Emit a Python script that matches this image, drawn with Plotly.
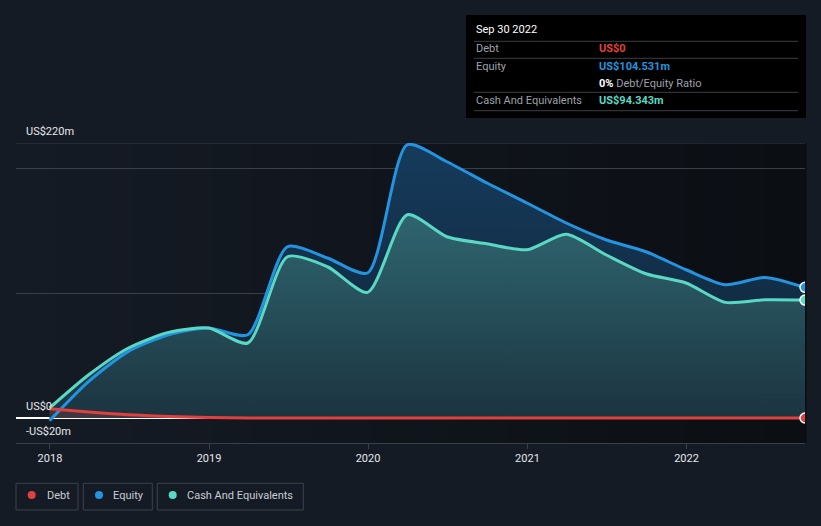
import plotly.graph_objects as go

# ---------------- data ----------------
dates = ["2017-12-31", "2018-03-31", "2018-06-30", "2018-09-30", "2018-12-31",
         "2019-03-31", "2019-06-30", "2019-09-30", "2019-12-31", "2020-03-31",
         "2020-06-30", "2020-09-30", "2020-12-31", "2021-03-31", "2021-06-30",
         "2021-09-30", "2021-12-31", "2022-03-31", "2022-06-30", "2022-09-30"]
debt = [7.4, 4.8, 2.6, 1.3, 0.4, 0, 0, 0, 0, 0, 0, 0, 0, 0, 0, 0, 0, 0, 0, 0]
equity = [-2.2, 29.3, 53.3, 66.6, 72, 66.6, 137, 128, 116, 218.6, 205, 188, 172,
          156, 142.6, 133, 118.6, 106.6, 112.5, 104.531]
cash = [8, 34.6, 56, 68.5, 72, 60, 129, 121, 100.5, 162.6, 145, 139.4, 134.6,
        147, 130.6, 115.4, 108, 92.5, 94.6, 94.343]

series_names = ["Debt", "Equity", "Cash And Equivalents"]
y_tick_labels = {220: "US$220m", 0: "US$0", -20: "-US$20m"}
tooltip_title = "Sep 30 2022"
tooltip_rows = [("Debt", "US$0"), ("Equity", "US$104.531m"),
                ("Cash And Equivalents", "US$94.343m")]

# ---------------- styles ----------------
W, H = 821, 526
L, R, T, B = 16, 16, 143, 83
BG = "#151b25"
RED, BLUE, TEAL = "#e0413f", "#2394df", "#5ad8c4"
GRID = "#3a3f48"
FONT = "Roboto, 'Noto Sans', sans-serif"
FS = 11
SM = 0.7

pw, ph = W - L - R, H - T - B


def px(x):
    return (x - L) / pw


def py(y):
    return (H - B - y) / ph


fig = go.Figure()

# fills
fig.add_trace(go.Scatter(
    x=dates, y=equity, mode="lines", line=dict(width=0, shape="spline", smoothing=SM),
    fill="tozeroy",
    fillgradient=dict(type="vertical", start=0, stop=220,
                      colorscale=[[0, "#0f2335"], [1, "#163b5c"]]),
    hoverinfo="skip", showlegend=False))
fig.add_trace(go.Scatter(
    x=dates, y=cash, mode="lines", line=dict(width=0, shape="spline", smoothing=SM),
    fill="tozeroy",
    fillgradient=dict(type="vertical", start=0, stop=165,
                      colorscale=[[0, "#1b3440"], [1, "#2f6670"]]),
    hoverinfo="skip", showlegend=False))
fig.add_trace(go.Scatter(
    x=dates, y=debt, mode="lines", line=dict(width=0, shape="spline", smoothing=SM),
    fill="tozeroy", fillcolor="rgba(224,65,63,0.18)",
    hoverinfo="skip", showlegend=False))

# lines
for vals, col, name in [(equity, BLUE, series_names[1]), (cash, TEAL, series_names[2]),
                        (debt, RED, series_names[0])]:
    fig.add_trace(go.Scatter(
        x=dates, y=vals, mode="lines", name=name,
        line=dict(color=col, width=3, shape="spline", smoothing=SM),
        showlegend=False))
    fig.add_trace(go.Scatter(
        x=[dates[-1]], y=[vals[-1]], mode="markers",
        marker=dict(color=col, size=10, line=dict(color="#ffffff", width=1.5)),
        showlegend=False, hoverinfo="skip"))

shapes = []
# horizontal gradient background of plot area
n = 40
c0 = (0x15, 0x1b, 0x25)
c1 = (0x0b, 0x0e, 0x13)
for i in range(n):
    t = i / (n - 1)
    c = tuple(round(a + (b - a) * t) for a, b in zip(c0, c1))
    shapes.append(dict(type="rect", xref="x domain", yref="y domain",
                       x0=i / n, x1=(i + 1) / n + 0.002, y0=0, y1=1,
                       fillcolor="rgb(%d,%d,%d)" % c, line=dict(width=0),
                       layer="below"))
# top border line at 220
shapes.append(dict(type="line", xref="x domain", yref="y", x0=0, x1=1, y0=220, y1=220,
                   line=dict(color=GRID, width=1), layer="below"))

annotations = []
for v, txt in y_tick_labels.items():
    annotations.append(dict(xref="paper", yref="y", x=px(24), y=v, xanchor="left",
                            yanchor="bottom", yshift=3, text=txt, showarrow=False,
                            font=dict(family=FONT, size=FS, color="#e6e8eb")))

# tooltip box
shapes.append(dict(type="rect", xref="paper", yref="paper", x0=px(466), x1=px(806),
                   y0=py(118), y1=py(15), fillcolor="#000000", line=dict(width=0)))
for yy in [41.3, 58.3, 92.3, 110.7]:
    shapes.append(dict(type="line", xref="paper", yref="paper", x0=px(474), x1=px(798),
                       y0=py(yy), y1=py(yy), line=dict(color="#3c3f44", width=1)))
annotations.append(dict(xref="paper", yref="paper", x=px(474), y=py(30), xanchor="left",
                        yanchor="middle", text=tooltip_title, showarrow=False,
                        font=dict(family=FONT, size=FS, color="#ffffff")))
row_y = [48.5, 66.3, 100]
row_cols = [RED, BLUE, TEAL]
for (lab, val), yy, col in zip(tooltip_rows, row_y, row_cols):
    annotations.append(dict(xref="paper", yref="paper", x=px(474), y=py(yy),
                            xanchor="left", yanchor="middle", text=lab, showarrow=False,
                            font=dict(family=FONT, size=FS, color="#9da2a9")))
    annotations.append(dict(xref="paper", yref="paper", x=px(597), y=py(yy),
                            xanchor="left", yanchor="middle", text="<b>%s</b>" % val,
                            showarrow=False,
                            font=dict(family=FONT, size=FS, color=col)))
annotations.append(dict(xref="paper", yref="paper", x=px(597), y=py(83.3),
                        xanchor="left", yanchor="middle",
                        text='<span style="color:#ffffff"><b>0%</b></span> Debt/Equity Ratio',
                        showarrow=False,
                        font=dict(family=FONT, size=FS, color="#9da2a9")))

# custom legend
legend_items = [(series_names[0], RED, 16, 78, 31.7, 44.5),
                (series_names[1], BLUE, 83.3, 152.3, 99, 111),
                (series_names[2], TEAL, 157.3, 303.3, 172.7, 185)]
for name, col, x0, x1, dx, tx in legend_items:
    shapes.append(dict(type="rect", xref="paper", yref="paper", x0=px(x0), x1=px(x1),
                       y0=py(510), y1=py(483.3), fillcolor="rgba(0,0,0,0)",
                       line=dict(color="#3d424b", width=1)))
    shapes.append(dict(type="circle", xref="paper", yref="paper",
                       x0=px(dx - 4), x1=px(dx + 4), y0=py(499), y1=py(491),
                       fillcolor=col, line=dict(width=0)))
    annotations.append(dict(xref="paper", yref="paper", x=px(tx), y=py(495),
                            xanchor="left", yanchor="middle", text=name, showarrow=False,
                            font=dict(family=FONT, size=FS, color="#c9cdd3")))

fig.update_layout(
    width=W, height=H,
    margin=dict(l=L, r=R, t=T, b=B),
    paper_bgcolor=BG, plot_bgcolor=BG,
    font=dict(family=FONT, color="#e6e8eb"),
    showlegend=False,
    shapes=shapes, annotations=annotations,
    xaxis=dict(type="date", range=["2017-10-15", "2022-09-30"],
               tick0="2018-01-01", dtick="M12", tickformat="%Y",
               showgrid=False, zeroline=False,
               showline=True, linecolor=GRID, linewidth=1,
               ticks="outside", ticklen=5, tickcolor=GRID,
               tickfont=dict(family=FONT, size=FS, color="#e6e8eb")),
    yaxis=dict(range=[-20, 220], tickvals=[100, 200], showticklabels=False,
               showgrid=True, gridcolor=GRID, gridwidth=1,
               zeroline=True, zerolinecolor="#ffffff", zerolinewidth=1.5,
               showline=False, fixedrange=True),
)

fig.write_html("out.html", config={"displayModeBar": False},
               post_script="document.body.style.margin='0';"
                           "document.body.style.background='%s';" % BG)
